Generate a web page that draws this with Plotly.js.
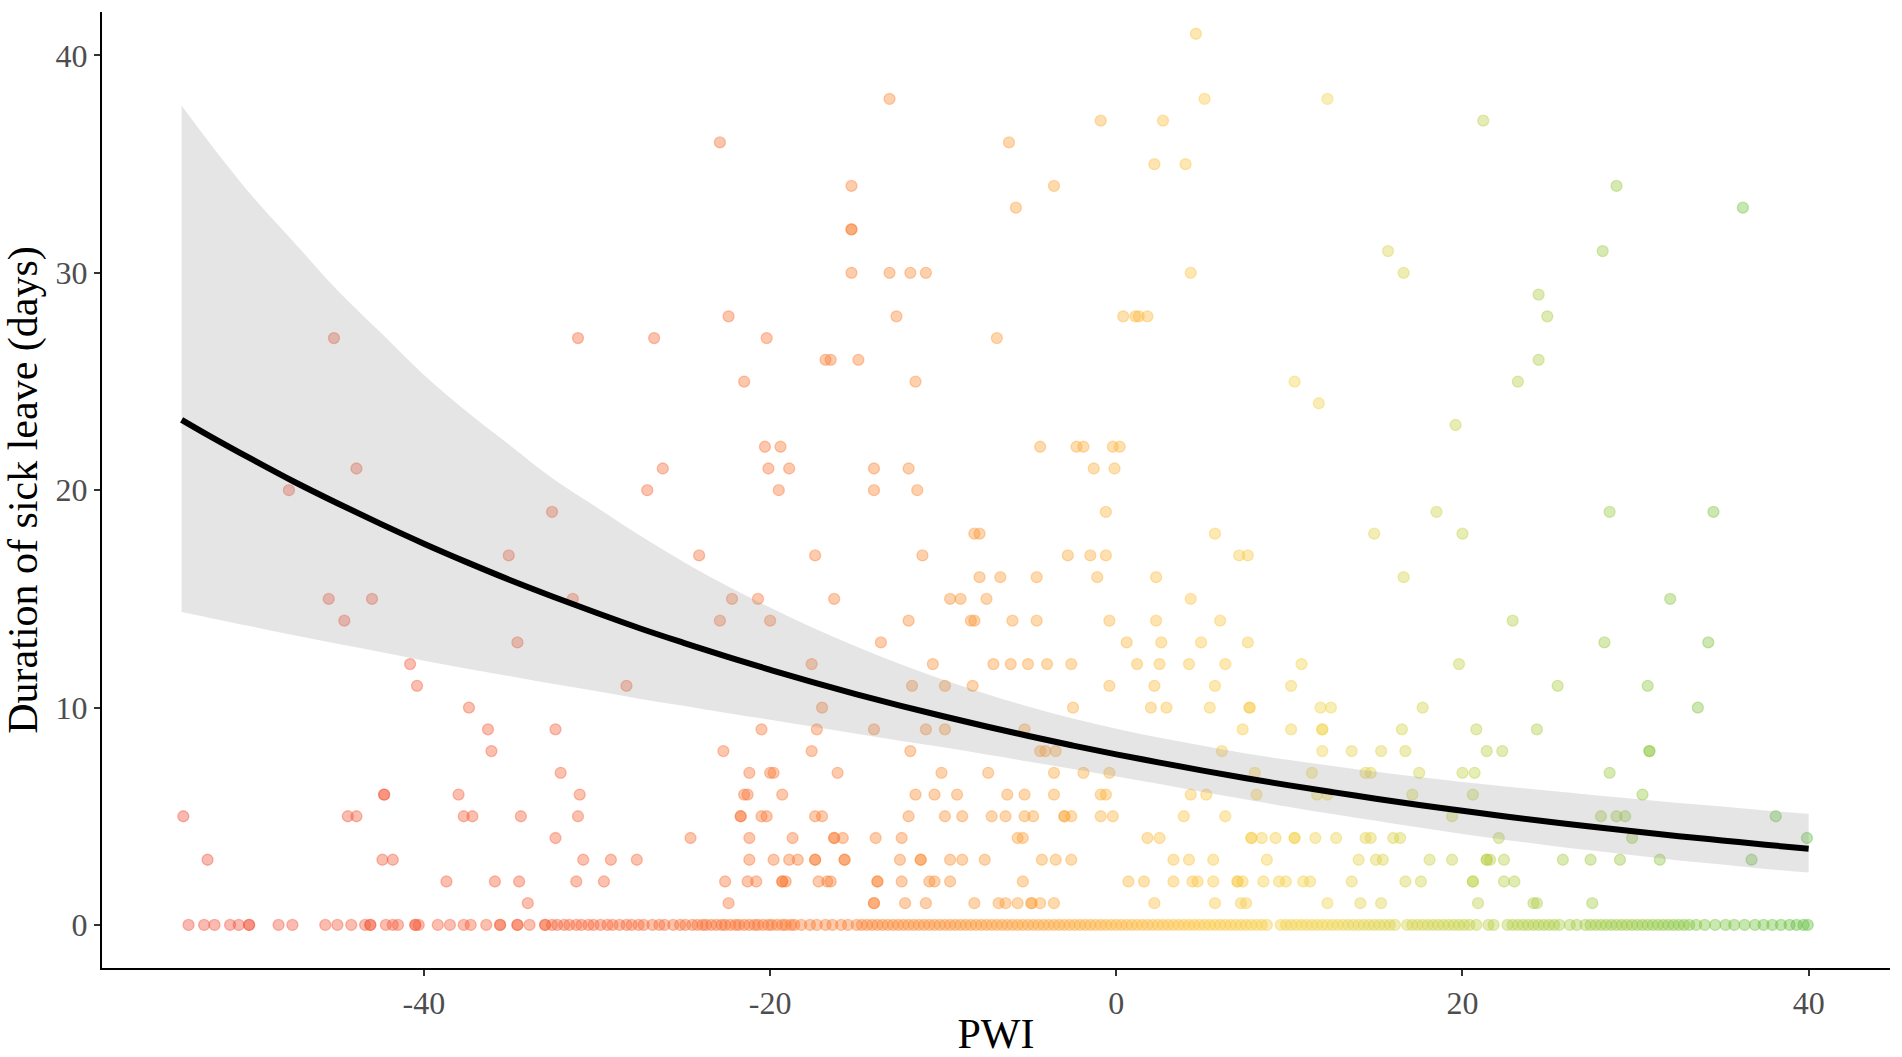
<!DOCTYPE html>
<html>
<head>
<meta charset="utf-8">
<script src="https://cdn.plot.ly/plotly-3.0.1.min.js"></script>
<style>
  body { margin: 0; background: #fff; }
  #plot { width: 1902px; height: 1057px; }
</style>
</head>
<body>
<div id="plot"></div>
<script>
// sick leave days (y) per PWI value (x), one array per days level
var days0 = [-53.6,-52.7,-52.1,-51.2,-50.7,-50.1,-50.1,-48.4,-47.6,-45.7,-45.0,-44.2,-43.4,-43.1,-43.1,-42.2,-41.8,-41.5,-40.5,-40.5,-40.3,-39.2,-38.5,-37.7,-37.3,-36.4,-35.6,-35.6,-34.6,-34.6,-33.9,-33.0,-33.0,
  -32.6,-32.3,-31.9,-31.6,-31.2,-30.9,-30.5,-30.2,-29.8,-29.4,-29.1,-28.7,-28.3,-28.0,-27.6,-27.3,-26.8,-26.4,-26.1,-25.6,-25.2,-24.9,-24.5,
  -24.2,-23.9,-23.7,-23.4,-23.1,-22.8,-22.6,-22.3,-22.0,-21.8,-21.5,-21.2,-20.9,-20.7,-20.4,-20.1,-19.9,-19.6,-19.3,-19.1,-18.8,-18.6,
  -18.2,-17.7,-17.3,-16.8,-16.4,-15.9,-15.5,-15.0,-14.7,
  -14.4,-14.1,-13.8,-13.5,-13.2,-12.9,-12.6,-12.3,-12.0,-11.7,-11.4,-11.1,-10.8,-10.5,-10.2,-9.9,-9.6,-9.3,-9.0,-8.7,-8.4,-8.1,-7.8,-7.5,-7.2,
  -6.9,-6.6,-6.3,-6.0,-5.7,-5.4,-5.1,-4.8,-4.5,-4.2,-3.9,-3.6,-3.3,-3.0,-2.7,-2.4,-2.1,-1.8,-1.5,-1.2,-0.9,-0.6,-0.3,0.0,0.3,0.6,0.9,1.2,1.5,1.8,
  2.1,2.4,2.7,3.0,3.3,3.6,3.9,4.2,4.5,4.8,5.1,5.4,5.7,6.0,6.3,6.6,6.9,7.2,7.5,7.8,8.1,8.4,8.7,
  9.5,9.8,10.1,10.4,10.7,11.0,11.3,11.6,11.9,12.2,12.5,12.8,13.1,13.4,13.7,14.0,14.3,14.6,14.9,15.2,15.5,15.8,16.1,
  16.8,17.1,17.4,17.7,18.0,18.3,18.6,18.9,19.2,19.5,19.8,20.1,20.4,20.8,21.5,21.8,22.6,22.9,23.2,23.5,23.8,24.1,24.4,24.7,25.0,25.3,25.6,
  26.2,26.6,27.1,27.4,27.7,28.0,28.3,28.6,28.9,29.2,29.5,29.8,30.1,30.4,30.7,31.0,31.3,31.6,31.9,32.2,32.5,32.8,33.1,33.5,34.0,34.6,
  35.2,35.7,36.3,36.9,37.4,37.9,38.4,38.9,39.3,39.7,39.95];
var days1 = [-34.0,-22.4,-14.0,-14.0,-12.2,-11.0,-8.2,-6.8,-6.4,-5.7,-4.9,-4.9,-4.4,-3.6,2.2,5.7,7.2,7.5,12.2,14.1,15.3,20.9,24.1,24.3,27.5];
var days2 = [-38.7,-35.9,-34.5,-31.2,-29.6,-22.6,-21.3,-20.8,-19.3,-19.3,-19.1,-17.2,-16.7,-16.5,-13.8,-13.8,-12.4,-10.8,-10.5,-9.6,-5.4,0.7,1.6,3.3,4.4,4.7,5.6,7.0,7.0,7.3,8.5,9.4,9.8,10.8,11.2,13.6,16.7,17.6,20.6,20.6,22.4,23.0];
var days3 = [-52.5,-42.4,-41.8,-30.8,-29.2,-27.7,-21.2,-19.8,-18.9,-18.4,-17.4,-17.4,-15.7,-15.7,-12.5,-11.3,-11.3,-9.6,-8.9,-7.6,-4.3,-3.5,-2.6,3.3,4.2,5.6,8.7,14.0,15.0,15.4,18.1,19.4,21.4,21.4,21.6,22.4,25.8,27.4,29.1,31.4,36.7];
var days4 = [-32.4,-24.6,-21.2,-18.7,-16.3,-16.3,-15.8,-13.9,-12.4,-5.7,-5.4,1.8,2.5,7.8,7.8,8.4,9.2,10.3,10.3,11.5,12.7,14.4,14.7,16.0,16.4,22.1,29.8,39.9];
var days5 = [-53.9,-44.4,-43.9,-37.7,-37.2,-34.4,-31.1,-21.7,-21.7,-20.5,-20.2,-17.4,-17.0,-12.0,-9.9,-8.9,-7.2,-6.4,-5.3,-4.8,-3.0,-3.0,-2.6,-0.9,-0.2,3.9,6.3,19.4,28.0,28.9,29.4,38.1];
var days6 = [-42.3,-42.3,-38.0,-31.0,-21.5,-21.3,-19.3,-11.6,-10.5,-9.2,-6.3,-5.3,-3.6,-0.9,-0.6,4.3,5.2,8.1,11.6,12.2,17.1,20.6,30.4];
var days7 = [-32.1,-21.2,-20.0,-19.8,-16.1,-10.1,-7.4,-3.6,-1.9,-0.4,8.0,11.3,14.4,14.7,17.5,20.0,20.7,28.5];
var days8 = [-36.1,-22.7,-17.6,-11.9,-4.4,-4.1,-3.5,6.1,11.9,13.6,15.3,16.7,21.4,22.3,30.8,30.8];
var days9 = [-36.3,-32.4,-20.5,-17.3,-14.0,-11.0,-9.9,-5.3,7.3,10.1,11.9,11.9,16.5,20.8,24.3];
var days10 = [-37.4,-17.0,-2.5,2.0,2.9,5.4,7.7,7.7,11.8,12.4,17.7,33.6];
var days11 = [-40.4,-28.3,-11.8,-9.9,-8.3,-0.4,2.2,5.7,10.1,25.5,30.7];
var days12 = [-40.8,-17.6,-10.6,-7.1,-6.1,-5.1,-4.0,-2.6,1.2,2.5,4.2,6.3,10.7,19.8];
var days13 = [-34.6,-13.6,0.6,2.6,4.9,7.6,28.2,34.2];
var days14 = [-44.6,-22.9,-20.0,-12.0,-8.4,-8.2,-6.0,-4.6,-0.4,2.3,6.0,22.9];
var days15 = [-45.5,-43.0,-31.4,-22.2,-20.7,-16.3,-9.6,-9.0,-7.5,4.3,32.0];
var days16 = [-7.9,-6.7,-4.6,-1.1,2.3,16.6];
var days17 = [-35.1,-24.1,-17.4,-11.2,-2.8,-1.5,-0.6,7.1,7.6];
var days18 = [-8.2,-7.9,5.7,14.9,20.0];
var days19 = [-32.6,-0.6,18.5,28.5,34.5];
var days20 = [-47.8,-27.1,-19.5,-14.0,-11.5];
var days21 = [-43.9,-26.2,-20.1,-18.9,-14.0,-12.0,-1.3,-0.1];
var days22 = [-20.3,-19.4,-4.4,-2.3,-1.9,-0.2,0.2];
var days23 = [19.6];
var days24 = [11.7];
var days25 = [-21.5,-11.6,10.3,23.2];
var days26 = [-16.8,-16.5,-14.9,24.4];
var days27 = [-45.2,-31.1,-26.7,-20.2,-6.9];
var days28 = [-22.4,-12.7,0.4,1.1,1.3,1.8,24.9];
var days29 = [24.4];
var days30 = [-15.3,-13.1,-11.9,-11.0,4.3,16.6];
var days31 = [15.7,28.1];
var days32 = [-15.3,-15.3];
var days33 = [-5.8,36.2];
var days34 = [-15.3,-3.6,28.9];
var days35 = [2.2,4.0];
var days36 = [-22.9,-6.2];
var days37 = [-0.9,2.7,21.2];
var days38 = [-13.1,5.1,12.2];
var days41 = [4.6];

// fitted curve and 95% band
var fitPWI   = [-54,-52.5,-50,-47.5,-45,-42.5,-40,-37.5,-35,-32.5,-30,-27.5,-25,-22.5,-20,-17.5,-15,-12.5,-10,-7.5,
                -5,-2.5,0,2.5,5,7.5,10,12.5,15,17.5,20,22.5,25,27.5,30,32.5,35,37.5,40];
var fitMean  = [23.24,22.55,21.45,20.39,19.40,18.45,17.54,16.68,15.86,15.09,14.35,13.64,12.98,12.34,11.74,11.16,10.61,10.09,9.60,9.13,
                8.68,8.25,7.85,7.47,7.10,6.75,6.42,6.11,5.81,5.52,5.25,4.99,4.75,4.52,4.30,4.08,3.89,3.69,3.51];
var fitUpper = [37.7,36.1,33.6,31.4,29.2,27.25,25.3,23.6,22.05,20.5,19.2,17.9,16.7,15.6,14.6,13.66,12.80,12.00,11.28,10.63,
                10.03,9.50,9.03,8.61,8.24,7.89,7.59,7.31,7.05,6.81,6.58,6.37,6.17,5.98,5.80,5.61,5.45,5.27,5.12];
var fitLower = [14.4,14.15,13.74,13.33,12.94,12.56,12.16,11.79,11.44,11.08,10.75,10.40,10.09,9.75,9.44,9.12,8.80,8.48,8.17,7.84,
                7.51,7.17,6.83,6.48,6.12,5.77,5.43,5.10,4.79,4.48,4.19,3.91,3.66,3.42,3.19,2.97,2.78,2.58,2.41];

var xTicks = [-40, -20, 0, 20, 40];
var yTicks = [0, 10, 20, 30, 40];

// colour gradient along PWI (red -> orange -> yellow -> green)
var gradStops = [
  [-55, [240, 80, 60]],
  [-30, [247, 100, 55]],
  [-15, [250, 128, 50]],
  [-5,  [252, 160, 55]],
  [5,   [252, 198, 65]],
  [12,  [240, 212, 75]],
  [22,  [185, 208, 70]],
  [30,  [150, 200, 65]],
  [40,  [95, 190, 60]]
];

function pwiColor(x, a) {
  var c = gradStops[gradStops.length - 1][1];
  if (x <= gradStops[0][0]) c = gradStops[0][1];
  for (var i = 0; i < gradStops.length - 1; i++) {
    var s0 = gradStops[i], s1 = gradStops[i + 1];
    if (x >= s0[0] && x <= s1[0]) {
      var t = (x - s0[0]) / (s1[0] - s0[0]);
      c = [0, 1, 2].map(function (k) { return Math.round(s0[1][k] + t * (s1[1][k] - s0[1][k])); });
      break;
    }
  }
  return 'rgba(' + c[0] + ',' + c[1] + ',' + c[2] + ',' + a + ')';
}

var rows = [
  [0, days0], [1, days1], [2, days2], [3, days3], [4, days4], [5, days5], [6, days6],
  [7, days7], [8, days8], [9, days9], [10, days10], [11, days11], [12, days12],
  [13, days13], [14, days14], [15, days15], [16, days16], [17, days17], [18, days18],
  [19, days19], [20, days20], [21, days21], [22, days22], [23, days23], [24, days24],
  [25, days25], [26, days26], [27, days27], [28, days28], [29, days29], [30, days30],
  [31, days31], [32, days32], [33, days33], [34, days34], [35, days35], [36, days36],
  [37, days37], [38, days38], [41, days41]
];

var px = [], py = [], fillCols = [], lineCols = [];
rows.forEach(function (r) {
  r[1].forEach(function (x) {
    px.push(x);
    py.push(r[0]);
    fillCols.push(pwiColor(x, 0.4));
    lineCols.push(pwiColor(x, 0.4));
  });
});

var points = {
  x: px, y: py,
  mode: 'markers',
  type: 'scatter',
  marker: {
    size: 11,
    color: fillCols,
    line: { color: lineCols, width: 1.3 }
  },
  hoverinfo: 'skip'
};

var bandLow = {
  x: fitPWI, y: fitLower,
  mode: 'lines', type: 'scatter',
  line: { width: 0, shape: 'spline' },
  hoverinfo: 'skip'
};

var bandHigh = {
  x: fitPWI, y: fitUpper,
  mode: 'lines', type: 'scatter',
  fill: 'tonexty',
  fillcolor: 'rgba(160,160,160,0.27)',
  line: { width: 0, shape: 'spline' },
  hoverinfo: 'skip'
};

var curve = {
  x: fitPWI, y: fitMean,
  mode: 'lines', type: 'scatter',
  line: { color: '#000000', width: 6, shape: 'spline' },
  hoverinfo: 'skip'
};

var data = [points, bandLow, bandHigh, curve];

var layout = {
  width: 1902,
  height: 1057,
  margin: { l: 102, r: 12, t: 12, b: 89 },
  paper_bgcolor: '#ffffff',
  plot_bgcolor: '#ffffff',
  showlegend: false,
  font: { family: '"Liberation Serif", "Times New Roman", serif', color: '#4d4d4d' },
  xaxis: {
    range: [-58.6, 44.7],
    tickvals: xTicks,
    ticktext: xTicks.map(String),
    showgrid: false,
    zeroline: false,
    showline: true,
    linecolor: '#000000',
    linewidth: 2,
    ticks: 'outside',
    ticklen: 6,
    tickwidth: 2,
    tickcolor: '#333333',
    tickfont: { size: 32, color: '#4d4d4d' },
    title: {
      text: 'PWI',
      font: { size: 42, color: '#000000' },
      standoff: 14
    },
    automargin: false
  },
  yaxis: {
    range: [-1.98, 42.0],
    tickvals: yTicks,
    ticktext: yTicks.map(String),
    showgrid: false,
    zeroline: false,
    showline: true,
    linecolor: '#000000',
    linewidth: 2,
    ticks: 'outside',
    ticklen: 6,
    tickwidth: 2,
    tickcolor: '#333333',
    tickfont: { size: 32, color: '#4d4d4d' },
    title: {
      text: 'Duration of sick leave (days)',
      font: { size: 42, color: '#000000' },
      standoff: 14
    },
    automargin: false
  }
};

Plotly.newPlot('plot', data, layout, { displayModeBar: false, staticPlot: true });
</script>
</body>
</html>
